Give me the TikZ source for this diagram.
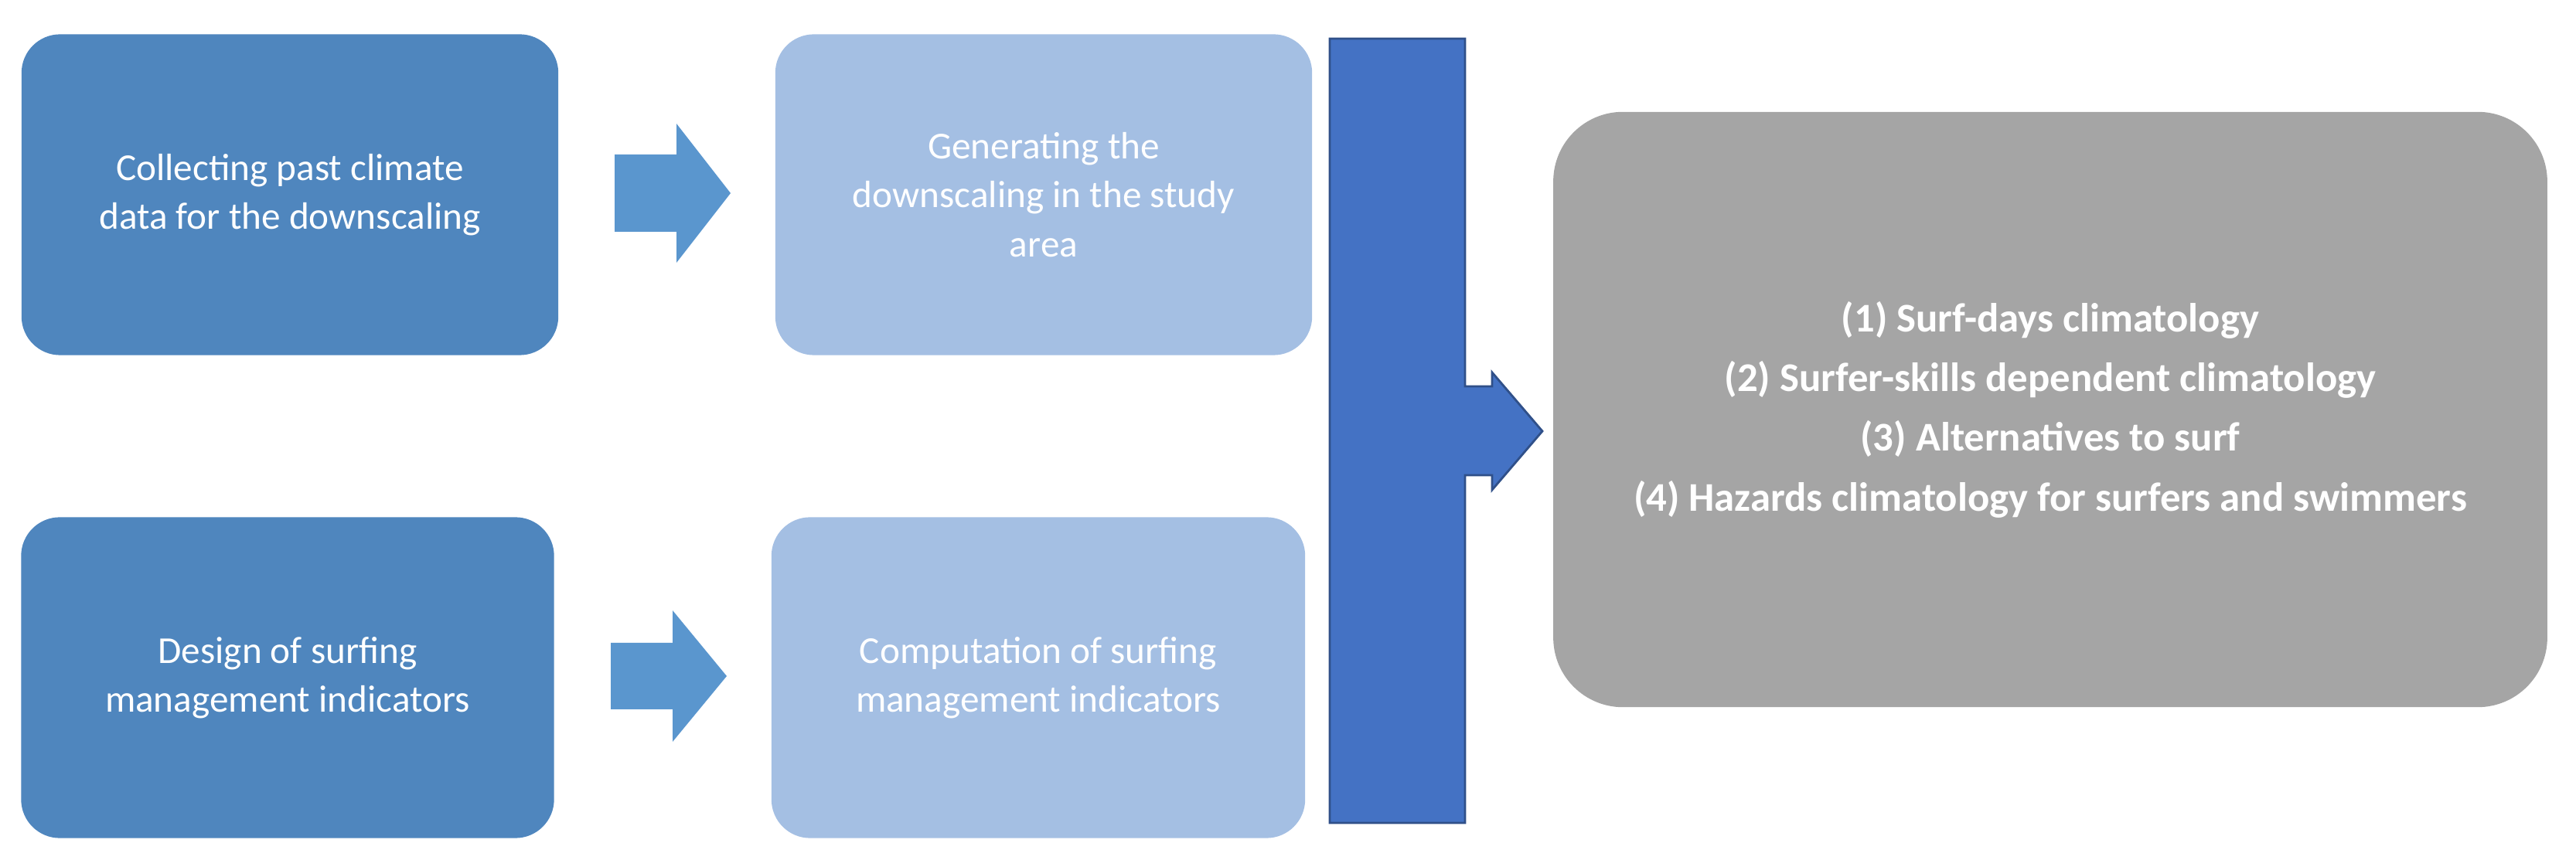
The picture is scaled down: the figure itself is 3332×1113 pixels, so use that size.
\documentclass[tikz,border=0pt]{standalone}
\usepackage{fontspec}
\setmainfont{Carlito}
\begin{document}
\begin{tikzpicture}[x=0.01cm,y=-0.01cm,
 dbox/.style={fill=dkb,rounded corners=0.5cm,text=white,align=center,font=\fontsize{14}{18}\selectfont},
 lbox/.style={fill=ltb,rounded corners=0.5cm,text=white,align=center,font=\fontsize{14}{18}\selectfont}]
\definecolor{dkb}{HTML}{4F86BE}
\definecolor{ltb}{HTML}{A4BFE3}
\definecolor{arb}{HTML}{5A96CE}
\definecolor{bar}{HTML}{4472C4}
\definecolor{gry}{HTML}{A5A5A5}
\useasboundingbox (0,0) rectangle (3332,1113);
\node[dbox,minimum width=6.94cm,minimum height=4.15cm] (b1) at (375,252) {Collecting past climate\\data for the downscaling};
\node[lbox,minimum width=6.94cm,minimum height=4.15cm] (b2) at (1350,252) {Generating the\\downscaling in the study\\area};
\node[dbox,minimum width=6.89cm,minimum height=4.15cm] (b3) at (372,877) {Design of surfing\\management indicators};
\node[lbox,minimum width=6.90cm,minimum height=4.15cm] (b4) at (1343,877) {Computation of surfing\\management indicators};
\fill[arb] (795,200) -- (875,200) -- (875,160) -- (945,250) -- (875,340) -- (875,300) -- (795,300) -- cycle;
\fill[arb] (790,832) -- (870,832) -- (870,790) -- (940,875) -- (870,960) -- (870,918) -- (790,918) -- cycle;
\filldraw[fill=bar,draw=bar!70!black,line width=0.8pt] (1720,50) -- (1895,50) -- (1895,500) -- (1930,500) -- (1930,482) -- (1995,558) -- (1930,634) -- (1930,615) -- (1895,615) -- (1895,1065) -- (1720,1065) -- cycle;
\node[fill=gry,rounded corners=0.9cm,minimum width=12.85cm,minimum height=7.7cm,text=white,align=center,font=\bfseries\fontsize{15}{22}\selectfont] (g) at (2652,530) {(1) Surf-days climatology\\(2) Surfer-skills dependent climatology\\(3) Alternatives to surf\\(4) Hazards climatology for surfers and swimmers};
\end{tikzpicture}
\end{document}
